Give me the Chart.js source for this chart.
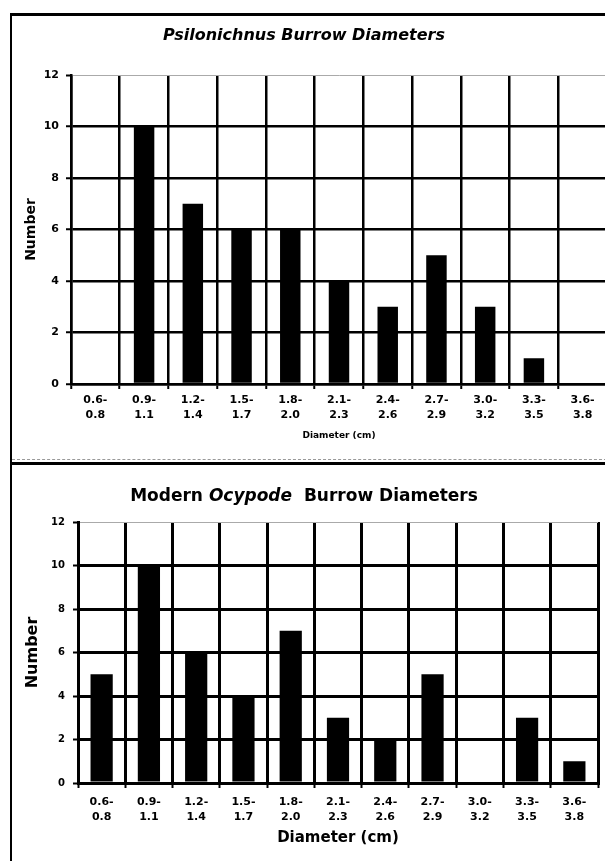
<!DOCTYPE html>
<html><head><meta charset="utf-8">
<script src="https://cdn.jsdelivr.net/npm/chart.js@4"></script>
<style>
html,body{margin:0;padding:0;width:605px;height:861px;overflow:hidden;background:#fff;}
canvas{position:absolute;left:0;}
#c1{top:0;width:620px;height:463px;}
#c2{top:463px;width:620px;height:398px;}
.title{position:absolute;left:0;width:608px;text-align:center;font-family:"DejaVu Sans",sans-serif;font-weight:bold;color:#000;white-space:pre;}
.ln{position:absolute;background:#000;}
</style></head><body>
<canvas id="c1" width="620" height="463"></canvas>
<canvas id="c2" width="620" height="398"></canvas>
<div class="title" style="top:24px;height:22px;line-height:22px;font-size:16px;font-style:italic">Psilonichnus Burrow Diameters</div>
<div class="title" style="top:484px;height:22px;line-height:22px;font-size:17px">Modern <i>Ocypode</i>  Burrow Diameters</div>
<div class="ln" style="left:10px;top:13px;width:600px;height:3px"></div>
<div class="ln" style="left:10px;top:13px;width:2px;height:860px"></div>
<div class="ln" style="left:10px;top:462px;width:600px;height:3px"></div>
<div style="position:absolute;left:12px;top:459px;width:600px;border-top:1px dashed #999"></div>
<script>
const categories = [["0.6-","0.8"],["0.9-","1.1"],["1.2-","1.4"],["1.5-","1.7"],["1.8-","2.0"],["2.1-","2.3"],["2.4-","2.6"],["2.7-","2.9"],["3.0-","3.2"],["3.3-","3.5"],["3.6-","3.8"]];
const psilonichnusCounts = [0, 10, 7, 6, 6, 4, 3, 5, 3, 1, 0];
const ocypodeCounts = [5, 10, 6, 4, 7, 3, 2, 5, 0, 3, 1];
const yMax = 12;
const yStep = 2;
const yAxisTitle = "Number";
const xAxisTitle = "Diameter (cm)";

function makeChart(id, values, o) {
  return new Chart(document.getElementById(id), {
    type: 'bar',
    data: { labels: categories, datasets: [{ data: values, backgroundColor: '#000', borderWidth: 0, categoryPercentage: 1, barPercentage: o.bar }] },
    options: {
      responsive: false, animation: false,
      layout: { padding: { left: 0, top: o.top, right: o.right, bottom: o.bottom } },
      plugins: { legend: { display: false }, tooltip: { enabled: false }, title: { display: false } },
      scales: {
        x: {
          afterFit: s => { s.height = o.xh; },
          grid: { offset: true, color: c => (o.lastGray && c.index === categories.length) ? '#999' : '#000',
                  lineWidth: c => (o.lastGray && c.index === categories.length) ? 1 : o.lw,
                  drawTicks: true, tickLength: 5, tickColor: '#000', tickWidth: 2 },
          border: { display: true, color: '#000', width: o.lw },
          ticks: { color: '#000', font: { family: 'DejaVu Sans', weight: 'bold', size: 11, lineHeight: 15/11 }, padding: o.xpad, maxRotation: 0, autoSkip: false },
          title: { display: true, text: xAxisTitle, color: '#000', font: { family: 'DejaVu Sans', weight: 'bold', size: o.xtSize }, padding: { top: 0, bottom: o.xtPad } }
        },
        y: {
          min: 0, max: yMax,
          afterFit: s => { s.width = o.yw; },
          grid: { color: c => (c.tick && c.tick.value === yMax) ? '#aaa' : '#000',
                  lineWidth: c => (c.tick && c.tick.value === yMax) ? 1 : o.lw,
                  drawTicks: true, tickLength: 5, tickColor: '#000', tickWidth: 2 },
          border: { display: true, color: '#000', width: o.lw },
          ticks: { stepSize: yStep, color: '#000', font: { family: 'DejaVu Sans', weight: 'bold', size: o.ytSize }, padding: o.ypad },
          title: { display: true, text: yAxisTitle, color: '#000', font: { family: 'DejaVu Sans', weight: 'bold', size: o.yTitleSize }, padding: { top: o.yTitlePad, bottom: 0 } }
        }
      }
    }
  });
}

makeChart('c1', psilonichnusCounts, { bar: 0.42, top: 75, right: 13, bottom: 19, xh: 60, yw: 71, lw: 2.5, xpad: 3.5, ypad: 7, ytSize: 11, xtSize: 9, xtPad: 3, yTitleSize: 14, yTitlePad: 22.5, lastGray: false });
makeChart('c2', ocypodeCounts, { bar: 0.47, top: 59, right: 22, bottom: 14, xh: 64, yw: 78, lw: 3, xpad: 7, ypad: 8, ytSize: 10, xtSize: 15, xtPad: 0, yTitleSize: 16, yTitlePad: 23.5, lastGray: true });
</script>
</body></html>
